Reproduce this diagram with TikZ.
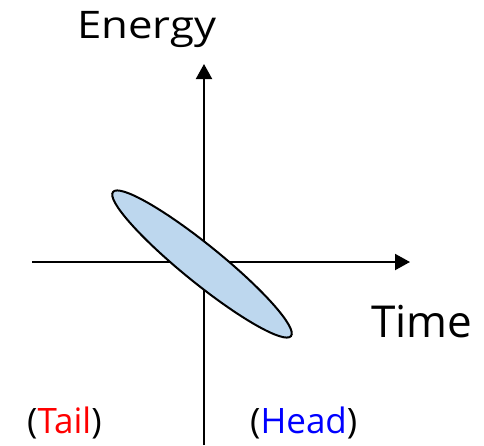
\documentclass[tikz,border=0pt]{standalone}
\usepackage{fontspec}
\setmainfont{Open Sans}
\usetikzlibrary{positioning,arrows.meta,shapes.geometric}
\definecolor{blobfill}{RGB}{189,215,238}

\begin{document}
\begin{tikzpicture}[x=1pt,y=-1pt,
    axis/.style={line width=2pt,-{Triangle[length=15pt,width=16pt]}},
    lbl/.style={inner sep=0pt,anchor=base west},
    big/.style={font=\fontsize{44}{48}\selectfont},
    mid/.style={font=\fontsize{38}{42}\selectfont,xscale=1.15},
    small/.style={font=\fontsize{35}{38}\selectfont},
    blob/.style={ellipse,draw,line width=2pt,fill=blobfill,inner sep=0pt,minimum width=229pt,minimum height=38pt}
  ]
    \useasboundingbox (0,0) rectangle (484,445);
    \coordinate (ybot) at (204,445);
    \coordinate (ytop) at (204,64);
    \coordinate (xleft) at (32,262);
    \coordinate (xright) at (410,262);

    \draw[axis] (ybot) -- (ytop);
    \draw[axis] (xleft) -- (xright);
    \node[blob,rotate=-39] (pulse) at (202,264) {};

    \node[lbl,mid] (energy) at (77,38) {Energy};
    \node[lbl,big] (time) at (371,337) {Time};
    \node[lbl,small] (tail) at (27,433) {(\textcolor{red}{Tail})};
    \node[lbl,small] (head) at (250,433) {(\textcolor{blue}{Head})};
  \end{tikzpicture}
\end{document}
